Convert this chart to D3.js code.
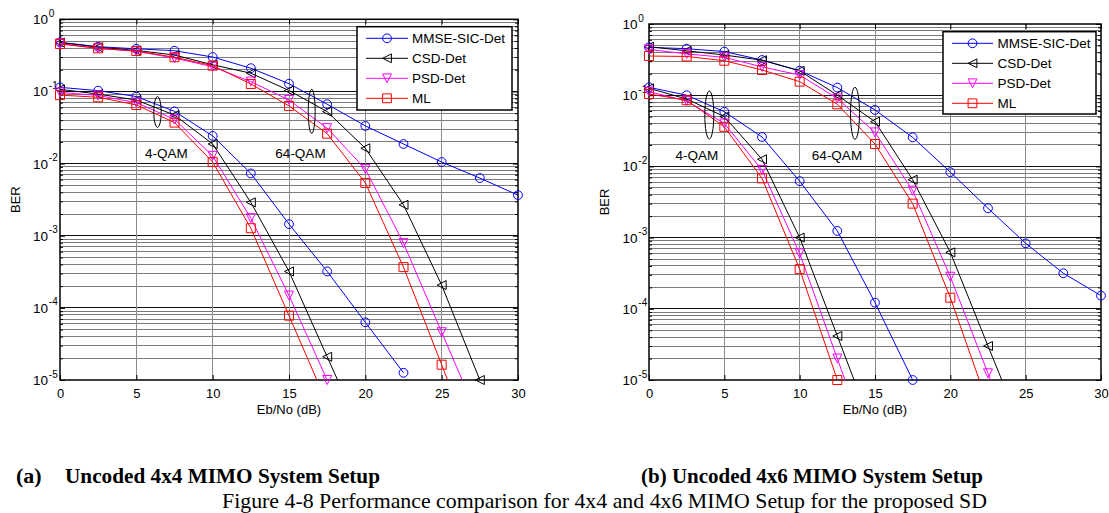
<!DOCTYPE html>
<html><head><meta charset="utf-8">
<script src="https://cdn.jsdelivr.net/npm/d3@7"></script>
<style>
body{margin:0;background:#fff}
svg{display:block}
.ax text{font-family:"Liberation Sans",Arial,sans-serif}
</style>
</head><body>
<svg id="c" width="1109" height="513"></svg>
<script>
// ---------- data ----------
const snr = [0, 2.5, 5, 7.5, 10, 12.5, 15, 17.5, 20, 22.5, 25, 27.5, 30];
const xTicks = [0, 5, 10, 15, 20, 25, 30];
const yTickExps = [0, -1, -2, -3, -4, -5];
const legendNames = ["MMSE-SIC-Det", "CSD-Det", "PSD-Det", "ML"];
const seriesColors = ["#0000ff", "#000000", "#ff00ff", "#ff0000"];
const seriesMarkers = ["circle", "triangleLeft", "triangleDown", "square"];

// (a) Uncoded 4x4 MIMO
const a_mmse_4qam = [0.114, 0.1025, 0.085, 0.053, 0.0242, 0.0073, 0.00145, 0.00032, 6.3e-5, 1.26e-5];
const a_csd_4qam  = [0.107, 0.092, 0.076, 0.047, 0.0187, 0.0029, 0.00032, 2.1e-5, 1.4e-6];
const a_psd_4qam  = [0.097, 0.088, 0.070, 0.041, 0.0128, 0.00175, 0.000148, 1.0e-5];
const a_ml_4qam   = [0.089, 0.083, 0.065, 0.037, 0.0105, 0.00127, 7.8e-5, 4.7e-6];
const a_mmse_64qam = [0.48, 0.417, 0.39, 0.367, 0.30, 0.21, 0.128, 0.0665, 0.0333, 0.0187, 0.0105, 0.0063, 0.00365];
const a_csd_64qam  = [0.475, 0.41, 0.37, 0.32, 0.234, 0.179, 0.103, 0.0525, 0.0163, 0.00268, 0.000207, 1.0e-5];
const a_psd_64qam  = [0.46, 0.395, 0.36, 0.29, 0.22, 0.137, 0.076, 0.031, 0.0084, 0.00079, 4.6e-5, 2.7e-6];
const a_ml_64qam   = [0.455, 0.396, 0.364, 0.298, 0.228, 0.127, 0.063, 0.026, 0.0054, 0.000367, 1.63e-5, 7e-7];

// (b) Uncoded 4x6 MIMO
const b_mmse_4qam = [0.129, 0.10, 0.0586, 0.0259, 0.0062, 0.00124, 0.000122, 1.0e-5];
const b_csd_4qam  = [0.125, 0.0885, 0.05, 0.0126, 0.001, 4.15e-5, 1.7e-6];
const b_psd_4qam  = [0.112, 0.083, 0.04, 0.0089, 0.0006, 2.0e-5, 6.8e-7];
const b_ml_4qam   = [0.104, 0.085, 0.036, 0.0068, 0.00036, 1.0e-5];
const b_mmse_64qam = [0.47, 0.45, 0.41, 0.312, 0.221, 0.128, 0.062, 0.0256, 0.0083, 0.00258, 0.00083, 0.000316, 0.000153];
const b_csd_64qam  = [0.48, 0.42, 0.367, 0.31, 0.22, 0.10, 0.0425, 0.0065, 0.00062, 3.0e-5, 1.5e-6];
const b_psd_64qam  = [0.44, 0.38, 0.34, 0.25, 0.192, 0.09, 0.030, 0.00456, 0.000282, 1.24e-5, 5.5e-7];
const b_ml_64qam   = [0.355, 0.35, 0.305, 0.226, 0.155, 0.0745, 0.0206, 0.003, 0.000143, 4.5e-6];

const groupLabels = ["4-QAM", "64-QAM"];
const xLabel = "Eb/No (dB)";
const yLabel = "BER";
const subCaptions = ["(a)", "Uncoded 4x4 MIMO System Setup", "(b) Uncoded 4x6 MIMO System Setup"];
const figCaption = "Figure 4-8 Performance comparison for 4x4 and 4x6 MIMO Setup for the proposed SD";

// ---------- drawing ----------
const svg = d3.select("#c");
const FONT = '"Liberation Sans", Arial, Helvetica, sans-serif';

function markerPath(type, s) {
  if (type === "circle") return d3.symbol(d3.symbolCircle, Math.PI * s * s)();
  if (type === "square") return `M${-s},${-s}H${s}V${s}H${-s}Z`;
  if (type === "triangleLeft") return `M${-s},0L${s},${-s}L${s},${s}Z`;
  if (type === "triangleDown") return `M${-s},${-s}L${s},${-s}L0,${s}Z`;
}

function drawPanel(cfg) {
  const g = svg.append("g").attr("class", "ax");
  const x = d3.scaleLinear().domain([0, 30]).range([cfg.x0, cfg.x1]);
  const y = d3.scaleLog().domain([1e-5, 1]).range([cfg.y1, cfg.y0]);
  const minorVals = [];
  for (let e = -5; e < 0; e++) for (let m = 2; m <= 9; m++) minorVals.push(m * Math.pow(10, e));
  const majorVals = yTickExps.map(e => Math.pow(10, e));

  // grid
  const grid = g.append("g").attr("shape-rendering", "crispEdges");
  grid.selectAll(".mg").data(minorVals).join("line")
    .attr("x1", cfg.x0).attr("x2", cfg.x1)
    .attr("y1", d => y(d)).attr("y2", d => y(d))
    .attr("stroke", "#7a7a7a").attr("stroke-width", 1);
  grid.selectAll(".Mg").data(majorVals.slice(1, -1)).join("line")
    .attr("x1", cfg.x0).attr("x2", cfg.x1)
    .attr("y1", d => y(d)).attr("y2", d => y(d))
    .attr("stroke", "#111").attr("stroke-width", 1.2);
  grid.selectAll(".vg").data(xTicks.slice(1, -1)).join("line")
    .attr("x1", d => x(d)).attr("x2", d => x(d))
    .attr("y1", cfg.y0).attr("y2", cfg.y1)
    .attr("stroke", "#8a8a8a").attr("stroke-width", 1);

  // axes ticks via d3 axes
  const axB = g.append("g").attr("transform", `translate(0,${cfg.y1})`)
    .call(d3.axisBottom(x).tickValues(xTicks).tickSize(-5).tickSizeOuter(0).tickPadding(8.5));
  axB.selectAll("text").attr("font-family", FONT).attr("font-size", 13).attr("fill", "#000");
  g.append("g").attr("transform", `translate(0,${cfg.y0})`)
    .call(d3.axisTop(x).tickValues(xTicks).tickSize(-5).tickSizeOuter(0).tickFormat(""));
  g.append("g").attr("transform", `translate(${cfg.x0},0)`)
    .call(d3.axisLeft(y).tickValues(majorVals).tickSize(-5).tickSizeOuter(0).tickFormat(""));
  g.append("g").attr("transform", `translate(${cfg.x1},0)`)
    .call(d3.axisRight(y).tickValues(majorVals).tickSize(-5).tickSizeOuter(0).tickFormat(""));
  g.append("g").attr("transform", `translate(${cfg.x0},0)`)
    .call(d3.axisLeft(y).tickValues(minorVals).tickSize(-3).tickSizeOuter(0).tickFormat(""));
  g.append("g").attr("transform", `translate(${cfg.x1},0)`)
    .call(d3.axisRight(y).tickValues(minorVals).tickSize(-3).tickSizeOuter(0).tickFormat(""));
  g.selectAll(".domain").remove();
  g.selectAll(".tick line").attr("stroke", "#000");

  // y tick labels with superscripts
  yTickExps.forEach(e => {
    const yy = y(Math.pow(10, e));
    g.append("text").attr("x", cfg.x0 - cfg.labOff).attr("y", yy + 5)
      .attr("text-anchor", "end").attr("font-family", FONT).attr("font-size", 13.5).text("10");
    g.append("text").attr("x", cfg.x0 - cfg.labOff + 0.8).attr("y", yy - 2.5)
      .attr("text-anchor", "start").attr("font-family", FONT).attr("font-size", 10).text(String(e).replace("-", "-"));
  });

  // box
  g.append("rect").attr("x", cfg.x0).attr("y", cfg.y0)
    .attr("width", cfg.x1 - cfg.x0).attr("height", cfg.y1 - cfg.y0)
    .attr("fill", "none").attr("stroke", "#000").attr("stroke-width", 1.5);

  // axis labels
  g.append("text").attr("x", (cfg.x0 + cfg.x1) / 2).attr("y", cfg.y1 + 33.5)
    .attr("text-anchor", "middle").attr("font-family", FONT).attr("font-size", 13).text(xLabel);
  g.append("text").attr("transform", `translate(${cfg.yLabX},${(cfg.y0 + cfg.y1) / 2}) rotate(-90)`)
    .attr("text-anchor", "middle").attr("font-family", FONT).attr("font-size", 13).text(yLabel);

  // clip
  const cid = "clip" + cfg.id;
  svg.append("clipPath").attr("id", cid).append("rect")
    .attr("x", cfg.x0).attr("y", cfg.y0).attr("width", cfg.x1 - cfg.x0).attr("height", cfg.y1 - cfg.y0);

  const line = d3.line().x(d => x(d[0])).y(d => y(d[1]));
  cfg.series.forEach(s => {
    const pts = s.vals.map((v, i) => [snr[i], v]);
    g.append("path").attr("d", line(pts)).attr("clip-path", `url(#${cid})`)
      .attr("fill", "none").attr("stroke", seriesColors[s.k]).attr("stroke-width", 1);
    g.selectAll(null).data(pts.filter(p => p[1] >= 0.98e-5)).join("path")
      .attr("transform", p => `translate(${x(p[0])},${y(p[1])})`)
      .attr("d", markerPath(seriesMarkers[s.k], s.k === 0 ? 4.4 : 4.5))
      .attr("fill", "none").attr("stroke", seriesColors[s.k]).attr("stroke-width", 1);
  });

  // annotations
  cfg.ellipses.forEach(el => {
    g.append("ellipse").attr("cx", el[0]).attr("cy", el[1]).attr("rx", el[2]).attr("ry", el[3])
      .attr("fill", "none").attr("stroke", "#000").attr("stroke-width", 1);
  });
  cfg.labels.forEach((lb, i) => {
    g.append("text").attr("x", lb[0]).attr("y", lb[1]).attr("text-anchor", "middle")
      .attr("font-family", FONT).attr("font-size", 13.5).text(groupLabels[i]);
  });

  // legend
  const L = cfg.legend;
  const lg = g.append("g");
  lg.append("rect").attr("x", L.x).attr("y", L.y).attr("width", L.w).attr("height", L.h)
    .attr("fill", "#fff").attr("stroke", "#000").attr("stroke-width", 1.5);
  legendNames.forEach((name, k) => {
    const ry = L.y + 11.6 + k * 20;
    lg.append("line").attr("x1", L.x + L.l1).attr("x2", L.x + L.l2).attr("y1", ry).attr("y2", ry)
      .attr("stroke", seriesColors[k]).attr("stroke-width", 1);
    lg.append("path").attr("transform", `translate(${L.x + (L.l1 + L.l2) / 2},${ry})`)
      .attr("d", markerPath(seriesMarkers[k], 4.4)).attr("fill", "none")
      .attr("stroke", seriesColors[k]).attr("stroke-width", 1);
    lg.append("text").attr("x", L.x + L.tx).attr("y", ry + 5).attr("font-family", FONT)
      .attr("font-size", 13.5).text(name);
  });
}

drawPanel({
  id: "a", x0: 60, x1: 518, y0: 19.3, y1: 380, labOff: 12, yLabX: 20,
  series: [
    {k: 0, vals: a_mmse_4qam}, {k: 1, vals: a_csd_4qam}, {k: 2, vals: a_psd_4qam}, {k: 3, vals: a_ml_4qam},
    {k: 0, vals: a_mmse_64qam}, {k: 1, vals: a_csd_64qam}, {k: 2, vals: a_psd_64qam}, {k: 3, vals: a_ml_64qam}
  ],
  ellipses: [[157.5, 112, 3.7, 15.5], [311.7, 111.3, 3.5, 22]],
  labels: [[166.5, 158.3], [300.5, 158.3]],
  legend: {x: 357, y: 26.7, w: 155, h: 83.3, l1: 9, l2: 51, tx: 55}
});
drawPanel({
  id: "b", x0: 649, x1: 1101, y0: 24, y1: 380, labOff: 11.5, yLabX: 609,
  series: [
    {k: 0, vals: b_mmse_4qam}, {k: 1, vals: b_csd_4qam}, {k: 2, vals: b_psd_4qam}, {k: 3, vals: b_ml_4qam},
    {k: 0, vals: b_mmse_64qam}, {k: 1, vals: b_csd_64qam}, {k: 2, vals: b_psd_64qam}, {k: 3, vals: b_ml_64qam}
  ],
  ellipses: [[709.3, 115, 4.5, 24], [855, 113.3, 4.5, 26]],
  labels: [[697, 160], [837, 160]],
  legend: {x: 943, y: 31.7, w: 153, h: 82.3, l1: 9, l2: 50, tx: 54.5}
});

// captions
const SERIF = '"Liberation Serif", "Times New Roman", serif';
svg.append("text").attr("x", 16).attr("y", 483.3).attr("font-family", SERIF).attr("font-weight", "bold")
  .attr("font-size", 22).text(subCaptions[0]);
svg.append("text").attr("x", 65).attr("y", 483.3).attr("font-family", SERIF).attr("font-weight", "bold")
  .attr("font-size", 22).attr("textLength", 315).attr("lengthAdjust", "spacingAndGlyphs").text(subCaptions[1]);
svg.append("text").attr("x", 641).attr("y", 483.3).attr("font-family", SERIF).attr("font-weight", "bold")
  .attr("font-size", 22).attr("textLength", 342).attr("lengthAdjust", "spacingAndGlyphs").text(subCaptions[2]);
svg.append("text").attr("x", 222).attr("y", 508.3).attr("font-family", SERIF)
  .attr("font-size", 21).attr("textLength", 765).attr("lengthAdjust", "spacingAndGlyphs").text(figCaption);
</script>
</body></html>
